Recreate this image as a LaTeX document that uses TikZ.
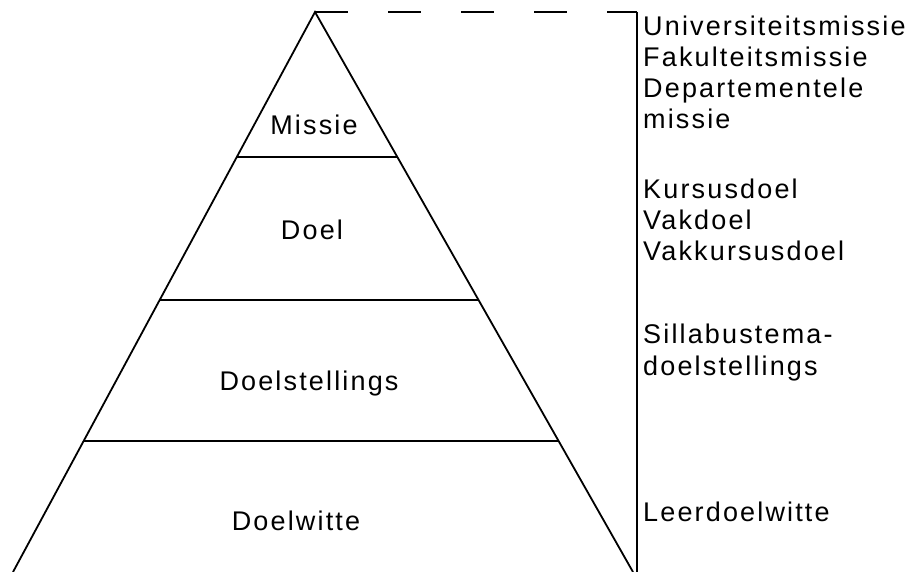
\documentclass[tikz,border=0pt]{standalone}
\usepackage{fontspec}
\setmainfont{Liberation Sans}[LetterSpace=8]
\usetikzlibrary{calc}
\begin{document}
\begin{tikzpicture}[x=1pt,y=-1pt,
  side/.style={line width=1.8pt},
  level/.style={line width=1.8pt},
  bracket/.style={line width=1.4pt},
  lbl/.style={inner sep=0pt,font=\fontsize{27}{31}\selectfont},
  rlbl/.style={lbl,anchor=base west}]
\useasboundingbox (0,0) rectangle (919,572);

% pyramid outline
\coordinate (apex) at (315,12);
\coordinate (bl) at (13,572);
\coordinate (br) at (633,572);
\draw[side] (bl) -- (apex) -- (br);

% layer boundaries
\draw[level] ($(apex)!0.2589!(bl)$) -- ($(apex)!0.2589!(br)$);
\draw[level] ($(apex)!0.5143!(bl)$) -- ($(apex)!0.5143!(br)$);
\draw[level] ($(apex)!0.7661!(bl)$) -- ($(apex)!0.7661!(br)$);

% bracket on the right
\coordinate (corner) at (637,12);
\coordinate (vbot) at (637,572);
\draw[bracket, dash pattern=on 33pt off 40pt] (apex) -- (corner);
\draw[bracket] (corner) -- (vbot);

% layer names
\node[lbl,anchor=base] (missie) at (314,135) {Missie};
\node[lbl,anchor=base] (doel) at (312,240) {Doel};
\node[lbl,anchor=base] (doelst) at (309,390) {Doelstellings};
\node[lbl,anchor=base] (doelw) at (296,530) {Doelwitte};

% examples per layer
\node[rlbl] (r1) at (643,36) {Universiteitsmissie};
\node[rlbl] (r2) at (643,67) {Fakulteitsmissie};
\node[rlbl] (r3) at (643,98) {Departementele};
\node[rlbl] (r4) at (643,129) {missie};
\node[rlbl] (r5) at (643,199) {Kursusdoel};
\node[rlbl] (r6) at (643,230) {Vakdoel};
\node[rlbl] (r7) at (643,261) {Vakkursusdoel};
\node[rlbl] (r8) at (643,343) {Sillabustema-};
\node[rlbl] (r9) at (643,375) {doelstellings};
\node[rlbl] (r10) at (643,521) {Leerdoelwitte};
\end{tikzpicture}
\end{document}
